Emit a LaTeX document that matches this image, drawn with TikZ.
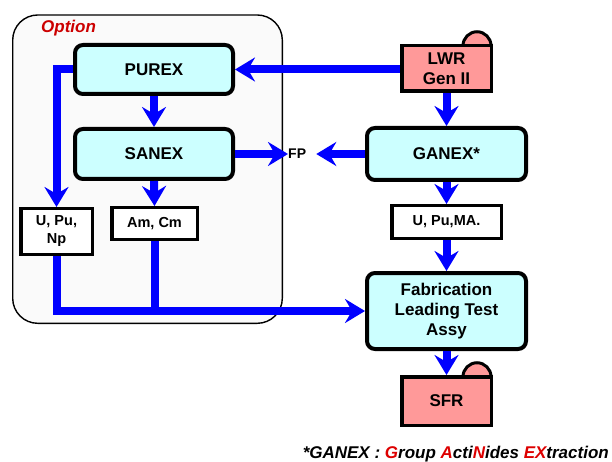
\documentclass[tikz,border=0pt]{standalone}
\usepackage{fontspec}
\setmainfont{Liberation Sans}
\usetikzlibrary{arrows.meta}
\definecolor{cyanfill}{HTML}{CCFFFF}
\definecolor{salmon}{HTML}{FF9999}
\definecolor{flowblue}{HTML}{0000FF}
\definecolor{optred}{HTML}{CC0000}
\definecolor{notered}{HTML}{DD0000}
\definecolor{optfill}{HTML}{FAFAFA}
\pgfdeclarelayer{bg}
\pgfsetlayers{bg,main}
\tikzset{
  proc/.style={draw, line width=4pt, rounded corners=8pt, fill=cyanfill, align=center,
    inner sep=0pt, font=\fontsize{17}{20}\selectfont\bfseries},
  prod/.style={draw, line width=3.5pt, fill=white, align=center, inner sep=0pt,
    font=\fontsize{14.5}{18}\selectfont\bfseries},
  plant/.style={draw, line width=3.5pt, fill=salmon, align=center, inner sep=0pt,
    font=\fontsize{17}{20}\selectfont\bfseries},
  hump/.style={line width=3pt},
  flow/.style={draw=flowblue, line width=8pt, line join=miter,
    -{Stealth[length=20pt,width=24pt,inset=7pt]}},
  trunk/.style={draw=flowblue, line width=8pt, line join=miter},
}
\begin{document}
\begin{tikzpicture}[x=1pt,y=-1pt]
\useasboundingbox (0,0) rectangle (612,462);
% option frame
\draw[line width=1.4pt, fill=optfill, rounded corners=25pt] (12.7,15) rectangle (282.3,323.3);
\node[anchor=base west, text=optred, font=\fontsize{17}{20}\selectfont\bfseries\itshape, inner sep=0pt] (opt) at (41,33) {Option};

% process nodes
\node[proc, minimum width=158pt, minimum height=49pt] (PUREX) at (154,69.5) {PUREX};
\node[proc, minimum width=158pt, minimum height=50pt] (SANEX) at (154,154) {SANEX};
\node[proc, minimum width=159pt, minimum height=52pt] (GANEX) at (446.5,154) {GANEX*};
\node[proc, minimum width=159pt, minimum height=76pt] (FAB) at (446.5,311) {Fabrication\\Leading Test\\Assy};

% product boxes
\node[prod, minimum width=71.5pt, minimum height=45.5pt] (UPuNp) at (56.5,231.5) {U, Pu,\\Np};
\node[prod, minimum width=85.5pt, minimum height=31.5pt] (AmCm) at (154.5,223.5) {Am, Cm};
\node[prod, minimum width=109.5pt, minimum height=32.5pt] (UPuMA) at (446.5,222) {U, Pu,MA.};

% reactors
\node[plant, minimum width=89.5pt, minimum height=45.5pt] (LWR) at (446.5,68.5) {LWR\\Gen II};
\node[plant, minimum width=89.5pt, minimum height=48.5pt] (SFR) at (446.5,401) {SFR};
\begin{pgfonlayer}{bg}
  \foreach \r in {LWR,SFR}{
    \filldraw[hump, fill=salmon] ([xshift=-30pt,yshift=-1.75pt]\r.north east)
      arc[start angle=180, end angle=0, radius=14pt];
  }
\end{pgfonlayer}

% FP label
\node[anchor=west, inner sep=0pt, font=\fontsize{14}{16}\selectfont\bfseries] (FP) at (288,154) {FP};

% connectors
\draw[flow] (LWR.west |- PUREX.east) -- (PUREX.east);
\draw[flow] (PUREX.south) -- (SANEX.north);
\draw[flow] (PUREX.west) -| (UPuNp.north);
\draw[flow] (SANEX.east) -- (FP.west);
\draw[flow, shorten >=10pt] (GANEX.west) -- (FP.east);
\draw[flow] (SANEX.south) -- (AmCm.north);
\draw[flow] (LWR.south) -- (GANEX.north);
\draw[flow] (GANEX.south) -- (UPuMA.north);
\draw[flow] (UPuMA.south) -- (FAB.north);
\draw[flow] (UPuNp.south) |- (FAB.west);
\draw[trunk] (AmCm.south) -- (AmCm.south |- FAB.west);
\draw[flow] (FAB.south) -- (SFR.north);

% footnote
\node[anchor=base east, inner sep=0pt, font=\fontsize{17}{20}\selectfont\bfseries\itshape] (note) at (609,458)
  {*GANEX : \textcolor{notered}{G}roup \textcolor{notered}{A}cti\textcolor{notered}{N}ides \textcolor{notered}{EX}traction};
\end{tikzpicture}
\end{document}
